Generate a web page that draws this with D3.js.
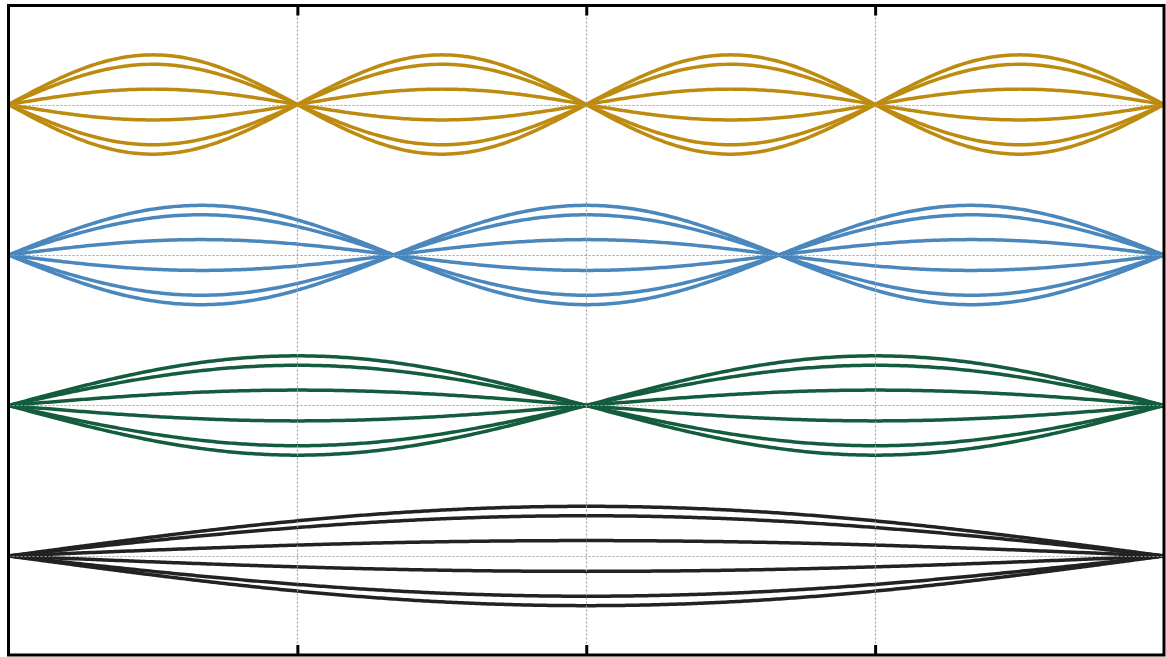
<!DOCTYPE html>
<html>
<head>
<meta charset="utf-8">
<script src="https://cdn.jsdelivr.net/npm/d3@7"></script>
<style>
  html, body { margin: 0; padding: 0; background: #fff; }
  svg { display: block; }
</style>
</head>
<body>
<svg id="chart" width="1166" height="657"></svg>
<script>
// standing wave modes, one row per harmonic
const modes = [1, 2, 3, 4];
const modeColors = ["#222222", "#145c3e", "#4a87bd", "#bd8b10"];
// snapshot amplitudes (fraction of full swing)
const snapshots = [1, 0.81, 0.31, -0.31, -0.81, -1];
const xTicks = [1, 2, 3];
const stringLength = 4;
const fullSwing = 0.33;

const width = 1166, height = 657;
const margin = { top: 5.5, right: 2, bottom: 2, left: 8.5 };

const svg = d3.select("#chart");

const x = d3.scaleLinear()
  .domain([0, stringLength])
  .range([margin.left, width - margin.right]);

const y = d3.scaleLinear()
  .domain([0.342, 4.658])
  .range([height - margin.bottom, margin.top]);

const line = d3.line()
  .x(d => x(d[0]))
  .y(d => y(d[1]));

const plot = svg.append("g").attr("class", "plot-area");

modes.forEach((n, i) => {
  const g = plot.append("g")
    .attr("fill", "none")
    .attr("stroke", modeColors[i])
    .attr("stroke-width", 3.5)
    .attr("stroke-linejoin", "round");
  snapshots.forEach(a => {
    const pts = d3.range(0, 401).map(k => {
      const xv = k / 400 * stringLength;
      return [xv, n + fullSwing * a * Math.sin(n * Math.PI * xv / stringLength)];
    });
    g.append("path").attr("d", line(pts));
  });
});

// dotted grid on top of the curves
const grid = svg.append("g")
  .attr("stroke", "#a0a0a0")
  .attr("stroke-width", 1.2)
  .attr("stroke-dasharray", "2,2");

grid.selectAll(".vgrid")
  .data(xTicks)
  .join("line")
  .attr("class", "vgrid")
  .attr("x1", d => Math.round(x(d)) + 0.5)
  .attr("x2", d => Math.round(x(d)) + 0.5)
  .attr("y1", margin.top)
  .attr("y2", height - margin.bottom);

grid.selectAll(".hgrid")
  .data(modes)
  .join("line")
  .attr("class", "hgrid")
  .attr("x1", margin.left)
  .attr("x2", width - margin.right)
  .attr("y1", d => Math.round(y(d)) + 0.5)
  .attr("y2", d => Math.round(y(d)) + 0.5);

// ticks at top and bottom, pointing inward
const xAxisBottom = d3.axisBottom(x).tickValues(xTicks).tickSize(-10).tickFormat("");
const xAxisTop = d3.axisTop(x).tickValues(xTicks).tickSize(-10).tickFormat("");

svg.append("g")
  .attr("transform", `translate(0,${height - margin.bottom})`)
  .call(xAxisBottom)
  .call(g => g.select(".domain").remove())
  .selectAll(".tick line")
  .attr("stroke", "#000")
  .attr("stroke-width", 3);

svg.append("g")
  .attr("transform", `translate(0,${margin.top})`)
  .call(xAxisTop)
  .call(g => g.select(".domain").remove())
  .selectAll(".tick line")
  .attr("stroke", "#000")
  .attr("stroke-width", 3);

// frame
svg.append("rect")
  .attr("x", margin.left)
  .attr("y", margin.top)
  .attr("width", width - margin.left - margin.right)
  .attr("height", height - margin.top - margin.bottom)
  .attr("fill", "none")
  .attr("stroke", "#000")
  .attr("stroke-width", 3);
</script>
</body>
</html>
